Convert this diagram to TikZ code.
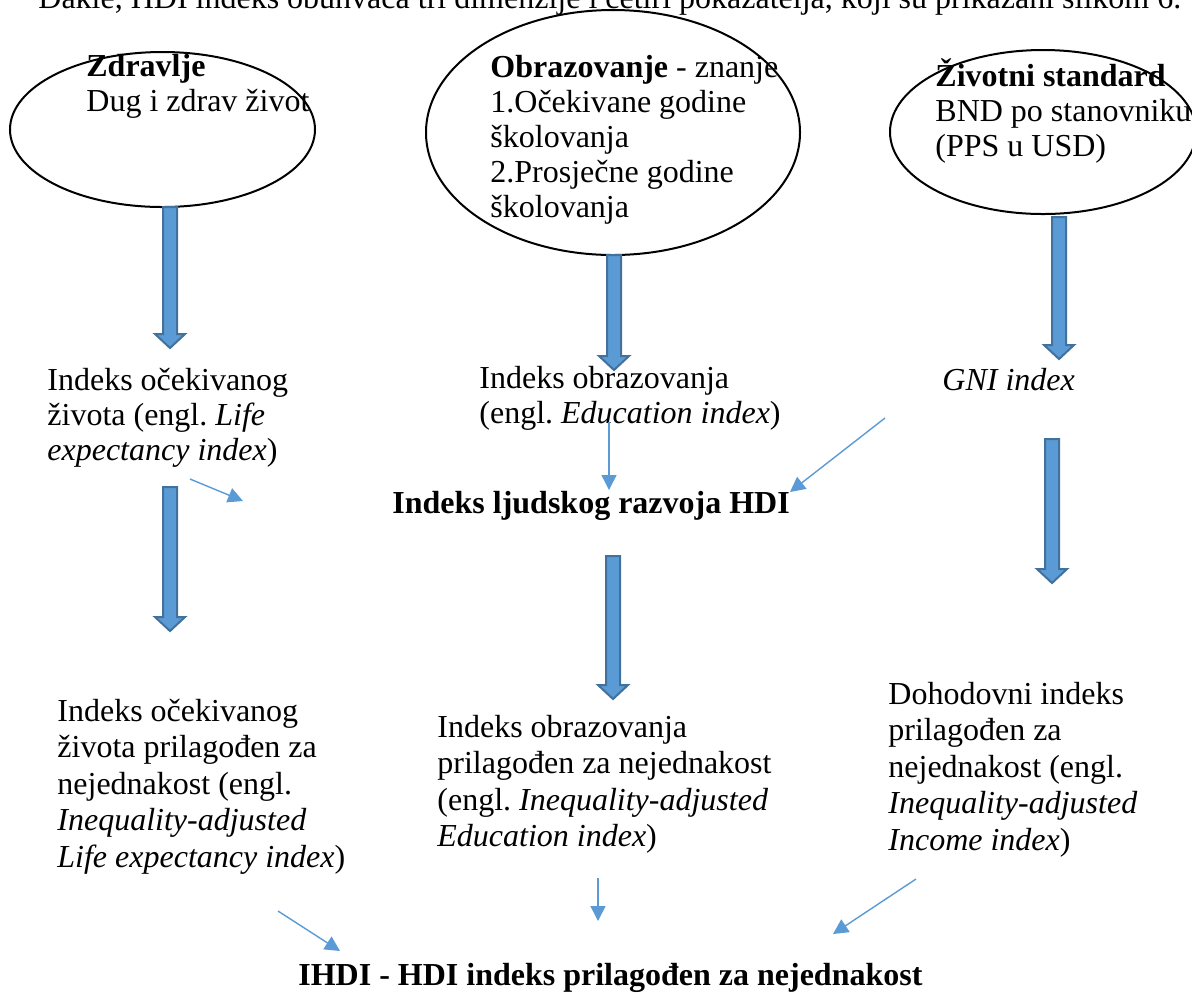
\documentclass[tikz,border=0pt]{standalone}
\usepackage{fontspec}
\setmainfont{Liberation Serif}
\usepackage{xcolor}
\definecolor{vizArrow}{HTML}{5B9BD5}
\definecolor{vizArrowLine}{HTML}{41719C}
\usetikzlibrary{shapes.geometric,arrows.meta,calc}
\frenchspacing
\newcommand{\rows}[1]{\begin{tabular}[t]{@{}l@{}}#1\end{tabular}}
\newcommand{\blockArrow}[2]{%
  \filldraw[blockArrow] let \p1=(#1), \p2=(#2) in
    (\x1-3.5pt,\y1) -- (\x1+3.5pt,\y1) -- (\x1+3.5pt,\y2+7pt) -- (\x1+7.5pt,\y2+7pt)
    -- (\x2,\y2) -- (\x1-7.5pt,\y2+7pt) -- (\x1-3.5pt,\y2+7pt) -- cycle;}

\begin{document}
\begin{tikzpicture}[x=0.5pt, y=-0.5pt,
  ovalBox/.style={draw, ellipse, line width=1pt, inner sep=0},
  txt/.style={anchor=base west, inner sep=0, font=\fontsize{16}{17.5}\selectfont},
  txtLow/.style={txt, font=\fontsize{16}{18.25}\selectfont},
  blockArrow/.style={fill=vizArrow, draw=vizArrowLine, line width=1pt, line join=miter},
  thinArrow/.style={draw=vizArrow, line width=0.7pt, -{Triangle[length=7.5pt, width=7.5pt]}}]
  \useasboundingbox (0,0) rectangle (1192,993);
  \clip (0,0) rectangle (1192,993);
  \fill[white] (0,0) rectangle (1192,993);

  % text above the figure, cut by the page edge
  \node[txt] (intro) at (38,8) {Dakle, HDI indeks obuhva\'ca tri dimenzije i \v{c}etiri pokazatelja, koji su prikazani slikom 6.};

  % three dimensions
  \node[ovalBox, minimum width=152.5pt, minimum height=77.5pt] (health) at (162.5,129.5) {};
  \node[ovalBox, minimum width=187pt, minimum height=122.5pt] (school) at (613,132.5) {};
  \node[ovalBox, minimum width=153pt, minimum height=82pt] (living) at (1043,132) {};
  \node[txt] (healthTxt) at (86,76) {\rows{\textbf{Zdravlje}\\ Dug i zdrav život}};
  \node[txt] (schoolTxt) at (490,77) {\rows{\textbf{Obrazovanje} - znanje\\ 1.Očekivane godine\\ školovanja\\ 2.Prosječne godine\\ školovanja}};
  \node[txt] (livingTxt) at (935,86) {\rows{\textbf{Životni standard}\\ BND po stanovniku\\ (PPS u USD)}};

  % indices
  \node[txt] (lifeIdx) at (47,390) {\rows{Indeks očekivanog\\ života (engl. \textit{Life}\\ \textit{expectancy index})}};
  \node[txt] (eduIdx) at (479,388) {\rows{Indeks obrazovanja\\ (engl. \textit{Education index})}};
  \node[txt] (gniIdx) at (942,390) {\textit{GNI index}};
  \node[txt] (hdi) at (392,513) {\textbf{Indeks ljudskog razvoja HDI}};

  % inequality-adjusted indices
  \node[txtLow] (lifeAdj) at (57,721) {\rows{Indeks očekivanog\\ života prilagođen za\\ nejednakost (engl.\\ \textit{Inequality-adjusted}\\ \textit{Life expectancy index})}};
  \node[txtLow] (eduAdj) at (437,737) {\rows{Indeks obrazovanja\\ prilagođen za nejednakost\\ (engl. \textit{Inequality-adjusted}\\ \textit{Education index})}};
  \node[txtLow] (incAdj) at (888,704) {\rows{Dohodovni indeks\\ prilagođen za\\ nejednakost (engl.\\ \textit{Inequality-adjusted}\\ \textit{Income index})}};
  \node[txt] (ihdi) at (298,985) {\textbf{IHDI - HDI indeks prilagođen za nejednakost}};

  % block arrows
  \coordinate (b1s) at (170,207);  \coordinate (b1e) at (170,348);
  \coordinate (b2s) at (614,255);  \coordinate (b2e) at (614,370);
  \coordinate (b3s) at (1059,217); \coordinate (b3e) at (1059,359);
  \coordinate (b4s) at (170,487);  \coordinate (b4e) at (170,631);
  \coordinate (b5s) at (613,556);  \coordinate (b5e) at (613,699);
  \coordinate (b6s) at (1052,439); \coordinate (b6e) at (1052,583);
  \blockArrow{b1s}{b1e}
  \blockArrow{b2s}{b2e}
  \blockArrow{b3s}{b3e}
  \blockArrow{b4s}{b4e}
  \blockArrow{b5s}{b5e}
  \blockArrow{b6s}{b6e}

  % thin arrows
  \coordinate (t1s) at (190,479); \coordinate (t1e) at (243,501);
  \coordinate (t2s) at (609,422); \coordinate (t2e) at (609,490);
  \coordinate (t3s) at (885,418); \coordinate (t3e) at (790,492);
  \coordinate (t4s) at (278,911); \coordinate (t4e) at (340,951);
  \coordinate (t5s) at (598,878); \coordinate (t5e) at (598,921);
  \coordinate (t6s) at (916,879); \coordinate (t6e) at (833,934);
  \draw[thinArrow] (t1s) -- (t1e);
  \draw[thinArrow] (t2s) -- (t2e);
  \draw[thinArrow] (t3s) -- (t3e);
  \draw[thinArrow] (t4s) -- (t4e);
  \draw[thinArrow] (t5s) -- (t5e);
  \draw[thinArrow] (t6s) -- (t6e);
\end{tikzpicture}
\end{document}
